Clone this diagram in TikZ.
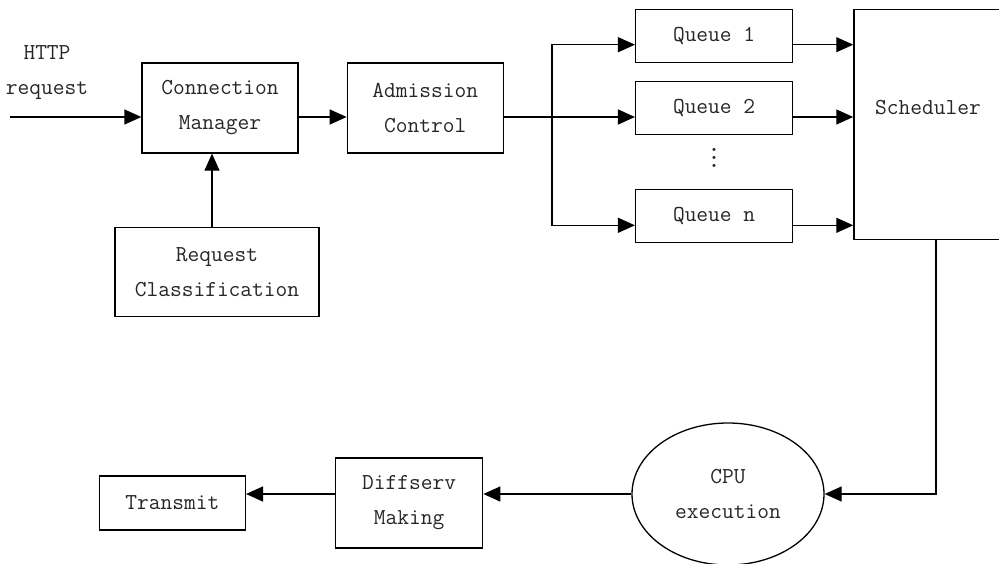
\documentclass[tikz,border=0pt]{standalone}
\usepackage{fontspec}
\usetikzlibrary{positioning, shapes.geometric, arrows.meta}

\newcommand{\qdots}{\vbox{\baselineskip=8pt\lineskiplimit=0pt\hbox{.}\hbox{.}\hbox{.}}}

\begin{document}
\begin{tikzpicture}[
    x=1pt, y=1pt,
    node distance=48pt,
    box/.style={rectangle, draw=black, line width=1.3pt, minimum width=156pt, minimum height=90pt, inner sep=0pt, align=center},
    queue/.style={box, minimum width=157pt, minimum height=53pt},
    proc/.style={ellipse, draw=black, line width=1.3pt, minimum width=192pt, minimum height=142pt, inner sep=0pt, align=center},
    flow/.style={line width=1.3pt, -{Triangle[length=17pt, width=15pt]}},
    every node/.style={font=\ttfamily\fontsize{22.8}{35}\selectfont, text=black!85}
]
    \useasboundingbox (0,0) rectangle (999,-563);

    % Top row
    \node[box] (Manager) at (220,-108) {Connection\\Manager};
    \node[box] (Admission) [right=48pt of Manager] {Admission\\Control};
    \node[box, minimum width=204pt, minimum height=89pt] (Classify) [below=73pt of Manager, xshift=-3pt] {Request\\Classification};
    \node[align=center] (Http) at (47,-73) {HTTP\\request};
    \coordinate (Src) at (10,-117);

    % Queues
    \node[queue] (Queue2) [right=131pt of Admission] {Queue 2};
    \node[queue] (Queue1) [above=18pt of Queue2] {Queue 1};
    \node[queue] (QueueN) [below=54pt of Queue2] {Queue n};
    \node[inner sep=0pt] (Dots) [below=13pt of Queue2] {\bfseries\qdots};
    \node[box, minimum width=148pt, minimum height=230pt, text depth=34pt] (Scheduler) [right=60pt of Queue1.north east, anchor=north west] {Scheduler};

    % Bottom row
    \node[proc] (CPU) at (728,-494) {CPU\\execution};
    \node[box, minimum width=147pt] (Diffserv) [left=148pt of CPU, yshift=-9pt] {Diffserv\\Making};
    \node[box, minimum width=146pt, minimum height=54pt] (Transmit) [left=89pt of Diffserv] {Transmit};

    % Edges
    \draw[flow] (Src) -- ([yshift=-9pt]Manager.west);
    \draw[flow] ([yshift=-9pt]Manager.east) -- ([yshift=-9pt]Admission.west);
    \draw[flow] ([xshift=-5pt]Classify.north) -- ([xshift=-5pt]Classify.north |- Manager.south);

    \coordinate (Split) at ([xshift=48pt, yshift=-9pt]Admission.east);
    \draw[line width=1.3pt] ([yshift=-9pt]Admission.east) -- (Split);
    \draw[flow] (Split) -- ([yshift=-9pt]Queue2.west);
    \draw[flow] (Split) |- ([yshift=-9pt]Queue1.west);
    \draw[flow] (Split) |- ([yshift=-9pt]QueueN.west);

    \foreach \q in {Queue1, Queue2, QueueN}
        \draw[flow] ([yshift=-9pt]\q.east) -- ([yshift=-9pt]\q.east -| Scheduler.west);

    \draw[flow] ([xshift=8pt]Scheduler.south) |- (CPU.east);
    \draw[flow] (CPU.west) -- ([yshift=9pt]Diffserv.east);
    \draw[flow] ([yshift=9pt]Diffserv.west) -- ([yshift=9pt]Transmit.east);

\end{tikzpicture}
\end{document}
